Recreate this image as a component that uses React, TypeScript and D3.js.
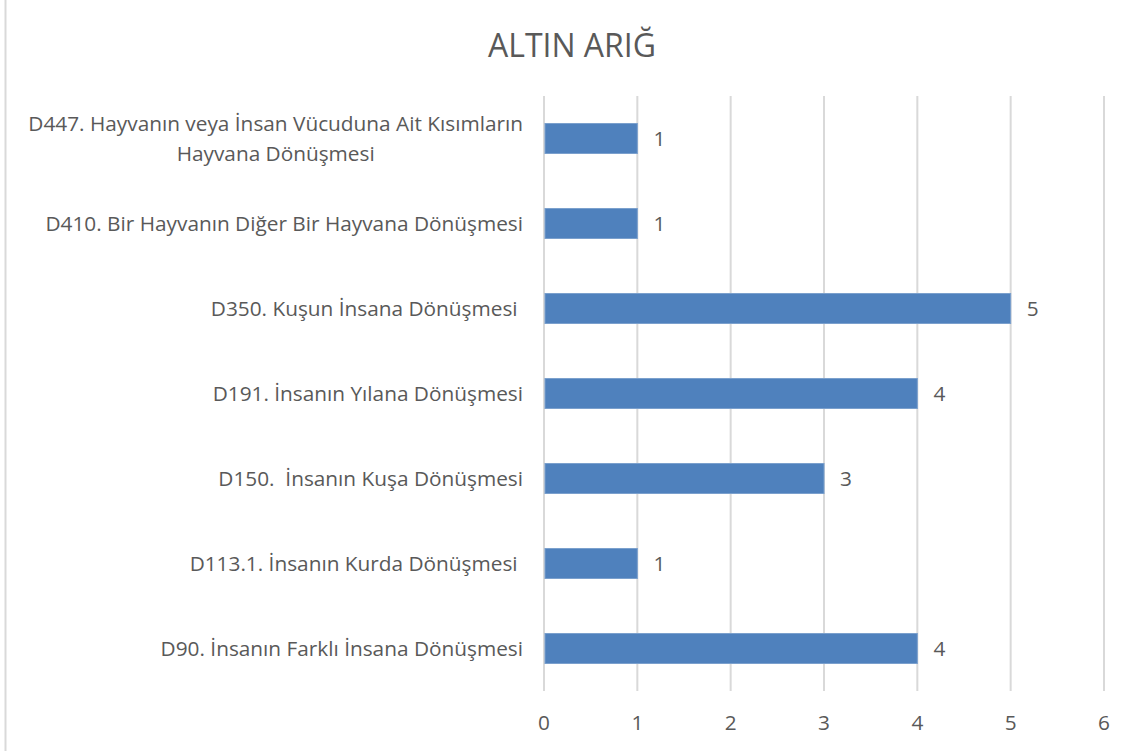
import React, { useRef, useEffect } from "react";
import * as d3 from "d3";

const W = 1134;
const H = 751;

// categories top to bottom, as drawn
const categories = [
  ["D447. Hayvanın veya İnsan Vücuduna Ait Kısımların", "Hayvana Dönüşmesi"],
  ["D410. Bir Hayvanın Diğer Bir Hayvana Dönüşmesi"],
  ["D350. Kuşun İnsana Dönüşmesi "],
  ["D191. İnsanın Yılana Dönüşmesi"],
  ["D150.  İnsanın Kuşa Dönüşmesi"],
  ["D113.1. İnsanın Kurda Dönüşmesi "],
  ["D90. İnsanın Farklı İnsana Dönüşmesi"],
];
const values = [1, 1, 5, 4, 3, 1, 4];
const ticks = [0, 1, 2, 3, 4, 5, 6];
const title = "ALTIN ARIĞ";

const FONT = "'Open Sans', 'Noto Sans', sans-serif";
const TEXT = "#595959";
const FS = 20.8;

const App = () => {
  const svgRef = useRef<SVGSVGElement | null>(null);

  useEffect(() => {
    const svg = d3.select(svgRef.current);
    svg.selectAll("*").remove();

    const left = 544, right = 1104, top = 96, bottom = 691;
    const x = d3.scaleLinear().domain([0, 6]).range([left, right]);
    const y = d3.scaleBand<number>()
      .domain(d3.range(categories.length))
      .range([top, bottom])
      .paddingInner(0.647)
      .paddingOuter(0.3235);

    svg.append("rect").attr("width", W).attr("height", H).attr("fill", "#fff");
    // left frame edge
    svg.append("line")
      .attr("x1", 5.5).attr("x2", 5.5).attr("y1", 0).attr("y2", H)
      .attr("stroke", "#d9d9d9").attr("stroke-width", 2);

    svg.append("text")
      .attr("x", 572).attr("y", 57)
      .attr("text-anchor", "middle")
      .attr("font-family", FONT).attr("font-size", 32)
      .attr("fill", TEXT)
      .text(title);

    // gridlines
    svg.append("g").selectAll("line").data(ticks).join("line")
      .attr("x1", d => x(d)).attr("x2", d => x(d))
      .attr("y1", top).attr("y2", bottom)
      .attr("stroke", "#d9d9d9").attr("stroke-width", 2);

    // tick labels
    svg.append("g").selectAll("text").data(ticks).join("text")
      .attr("x", d => x(d)).attr("y", 730)
      .attr("text-anchor", "middle")
      .attr("font-family", FONT).attr("font-size", FS)
      .attr("fill", TEXT)
      .text(d => String(d));

    // bars
    svg.append("g").selectAll("rect").data(values).join("rect")
      .attr("x", x(0) + 1)
      .attr("y", (_, i) => y(i)!)
      .attr("width", d => x(d) - x(0) - 1)
      .attr("height", y.bandwidth())
      .attr("fill", "#4f81bd")
      .attr("stroke", "#7ba0cd").attr("stroke-width", 1);

    // value labels
    svg.append("g").selectAll("text").data(values).join("text")
      .attr("x", d => x(d) + 22)
      .attr("y", (_, i) => y(i)! + y.bandwidth() / 2 + 7)
      .attr("text-anchor", "middle")
      .attr("font-family", FONT).attr("font-size", FS)
      .attr("fill", TEXT)
      .text(d => String(d));

    // category labels
    const labelRight = 523;
    categories.forEach((lines, i) => {
      const cy = y(i)! + y.bandwidth() / 2;
      const lh = 30;
      const y0 = cy - ((lines.length - 1) * lh) / 2 + 7;
      const first = svg.append("text")
        .attr("x", labelRight).attr("y", y0)
        .attr("text-anchor", "end")
        .attr("font-family", FONT).attr("font-size", FS)
        .attr("fill", TEXT)
        .style("white-space", "pre")
        .text(lines[0]);
      if (lines.length > 1) {
        const w = (first.node() as SVGTextElement).getComputedTextLength();
        lines.slice(1).forEach((ln, j) => {
          svg.append("text")
            .attr("x", labelRight - w / 2).attr("y", y0 + (j + 1) * lh)
            .attr("text-anchor", "middle")
            .attr("font-family", FONT).attr("font-size", FS)
            .attr("fill", TEXT)
            .style("white-space", "pre")
            .text(ln);
        });
      }
    });
  }, []);

  return (
    <svg
      ref={svgRef}
      width={W}
      height={H}
      style={{ position: "absolute", left: 0, top: 0, display: "block" }}
    />
  );
};

export default App;
